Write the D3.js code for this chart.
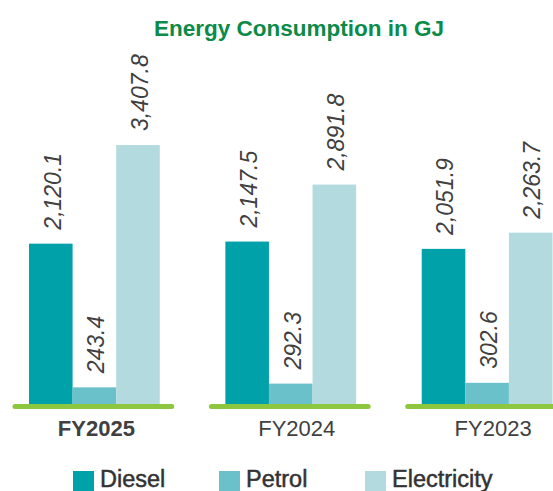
<!DOCTYPE html>
<html>
<head>
<meta charset="utf-8">
<script src="https://cdn.jsdelivr.net/npm/d3@7"></script>
<style>
  body { margin: 0; background: #fff; }
  svg { display: block; font-family: "Liberation Sans", Arial, sans-serif; }
</style>
</head>
<body>
<div id="chart"></div>
<script>
var width = 553,
    height = 491

// data
var years = ["FY2025", "FY2024", "FY2023"]
var series = ["Diesel", "Petrol", "Electricity"]
var diesel = [2120.1, 2147.5, 2051.9]
var petrol = [243.4, 292.3, 302.6]
var electricity = [3407.8, 2891.8, 2263.7]

var colors = ["#00a1a9", "#6ac1ca", "#b2dadf"]

var rows = years.map(function(y, i){
  return { year: y, values: [diesel[i], petrol[i], electricity[i]] }
})

var svg = d3.select("#chart")
  .append("svg")
    .attr("width", width)
    .attr("height", height)

// scales
var x0 = d3.scaleBand()
    .domain(years)
    .range([29, 552.5])
    .paddingInner(0.334)

var x1 = d3.scaleBand()
    .domain(series)
    .range([0, x0.bandwidth()])

var y = d3.scaleLinear()
    .domain([0, 3500])
    .range([406, 138])

var fmt = d3.format(",.1f")

// title
svg.append("text")
    .attr("x", 299)
    .attr("y", 36)
    .attr("text-anchor", "middle")
    .attr("font-size", 22.5)
    .attr("font-weight", "bold")
    .attr("fill", "#0b8a48")
    .text("Energy Consumption in GJ")

var groups = svg.selectAll("g.year")
  .data(rows)
  .join("g")
    .attr("class", "year")
    .attr("transform", d => "translate(" + x0(d.year) + ",0)")

// bars
groups.selectAll("rect")
  .data(d => d.values.map((v, i) => ({ key: series[i], value: v, i: i })))
  .join("rect")
    .attr("x", d => x1(d.key))
    .attr("y", d => y(d.value))
    .attr("width", x1.bandwidth())
    .attr("height", d => y(0) - y(d.value))
    .attr("fill", d => colors[d.i])

// value labels, rotated
groups.selectAll("text.val")
  .data(d => d.values.map((v, i) => ({ key: series[i], value: v })))
  .join("text")
    .attr("class", "val")
    .attr("transform", d => "translate(" + (x1(d.key) + x1.bandwidth() / 2 + 1.5) + "," + (y(d.value) - 14) + ") rotate(-90)")
    .attr("dy", "0.36em")
    .attr("font-size", 23)
    .attr("font-style", "italic")
    .attr("fill", "#404040")
    .text(d => fmt(d.value))

// green baseline under each group
groups.append("line")
    .attr("x1", -14)
    .attr("x2", x0.bandwidth() + 12)
    .attr("y1", y(0) + 0.5)
    .attr("y2", y(0) + 0.5)
    .attr("stroke", "#8dc63f")
    .attr("stroke-width", 5)
    .attr("stroke-linecap", "round")

// category labels
groups.append("text")
    .attr("x", (d, i) => x0.bandwidth() / 2 + (i == 0 ? 2 : 6))
    .attr("y", 436)
    .attr("text-anchor", "middle")
    .attr("font-size", 22)
    .attr("font-weight", (d, i) => i == 0 ? "bold" : "normal")
    .attr("fill", "#404040")
    .text(d => d.year)

// legend
var legend = svg.selectAll("g.legend")
  .data(series)
  .join("g")
    .attr("class", "legend")
    .attr("transform", (d, i) => "translate(" + (73 + i * 146) + ",471)")

legend.append("rect")
    .attr("width", 21)
    .attr("height", 20)
    .attr("fill", (d, i) => colors[i])

legend.append("text")
    .attr("x", 27)
    .attr("y", 15.5)
    .attr("font-size", 23.5)
    .attr("fill", "#333")
    .attr("stroke", "#333")
    .attr("stroke-width", 0.5)
    .text(d => d)
</script>
</body>
</html>
